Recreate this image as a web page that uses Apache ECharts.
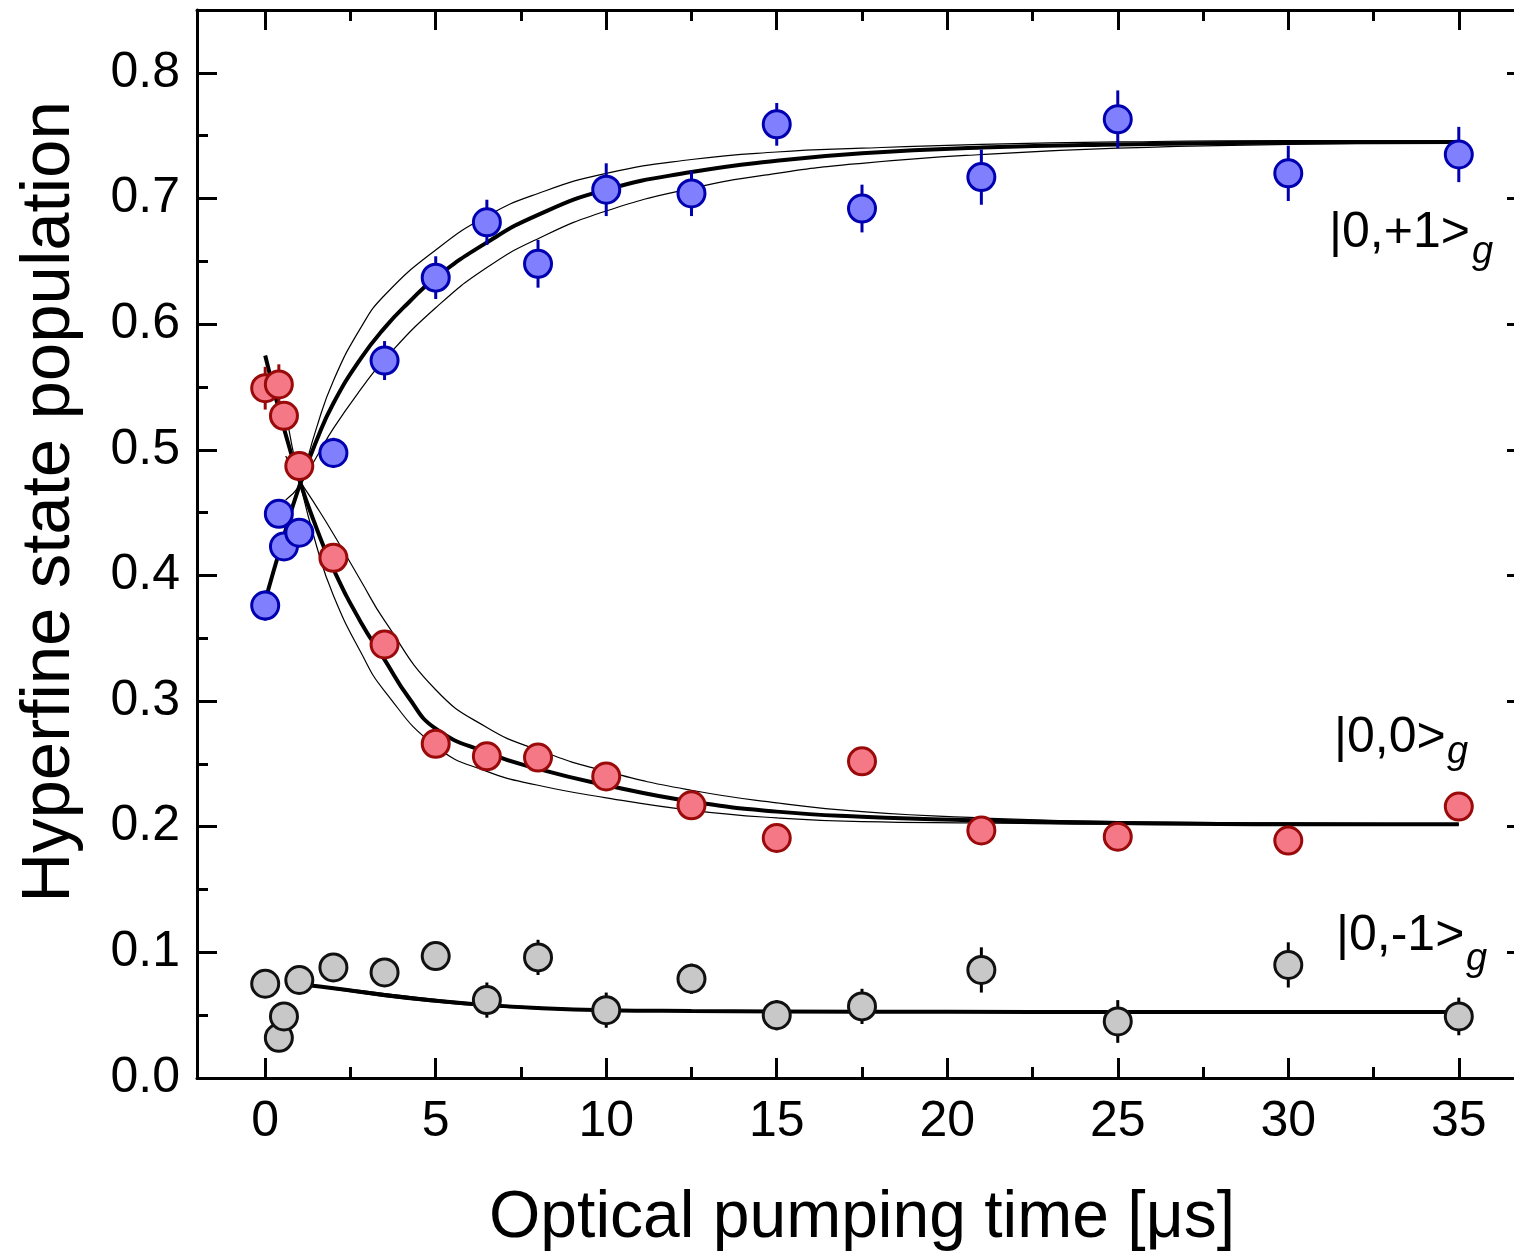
<!DOCTYPE html>
<html><head><meta charset="utf-8">
<script src="https://cdn.jsdelivr.net/npm/echarts@6/dist/echarts.min.js"></script>
<style>html,body{margin:0;padding:0;background:#fff}#c{width:1514px;height:1255px}</style>
</head><body><div id="c"></div>
<script>
// ---- measured data ----
const times = [0, 0.4, 0.55, 1, 2, 3.5, 5, 6.5, 8, 10, 12.5, 15, 17.5, 21, 25, 30, 35];
const popPlus1 = [0.376, 0.449, 0.423, 0.434, 0.4975, 0.571, 0.637, 0.681, 0.648, 0.707, 0.704, 0.759, 0.692, 0.717, 0.763, 0.720, 0.735];
const errPlus1 = [0.012, 0.011, 0.010, 0.010, 0.012, 0.0155, 0.017, 0.018, 0.019, 0.021, 0.018, 0.017, 0.019, 0.022, 0.023, 0.022, 0.022];
const popZero = [0.549, 0.552, 0.527, 0.487, 0.414, 0.345, 0.266, 0.256, 0.255, 0.240, 0.217, 0.191, 0.252, 0.197, 0.192, 0.189, 0.216];
const errZero = [0.017, 0.016, 0.010, 0.012, 0.010, 0.010, 0.009, 0.009, 0.009, 0.009, 0.009, 0.009, 0.009, 0.009, 0.009, 0.009, 0.009];
const popMinus1 = [0.075, 0.032, 0.049, 0.078, 0.088, 0.084, 0.097, 0.062, 0.096, 0.054, 0.079, 0.050, 0.057, 0.086, 0.045, 0.090, 0.049];
const errMinus1 = [0.008, 0.008, 0.009, 0.008, 0.009, 0.009, 0.010, 0.014, 0.014, 0.014, 0.012, 0.012, 0.014, 0.018, 0.017, 0.018, 0.015];

// ---- fit curves ----
const fitTimes = [0, 0.5, 1, 1.5, 2, 2.8, 3.5, 4.2, 5, 6.5, 8, 10, 12.5, 15, 17.5, 21, 25, 30, 35];
const fitPlus1 = [0.38, 0.427, 0.471, 0.507, 0.537, 0.5725, 0.597, 0.617, 0.637, 0.665, 0.687, 0.707, 0.721, 0.730, 0.736, 0.7405, 0.743, 0.7445, 0.745];
const fitZero = [0.575, 0.522, 0.476, 0.438, 0.405, 0.363, 0.333, 0.303, 0.278, 0.259, 0.246, 0.233, 0.220, 0.212, 0.208, 0.205, 0.203, 0.202, 0.202];
const bandTimes = [0.6, 1, 1.5, 2, 2.8, 3.5, 5, 6.5, 8, 10, 12.5, 15, 17.5, 21, 25, 30, 35];
const bandPlus1Hi = [0.445, 0.471, 0.517, 0.555, 0.597, 0.623, 0.659, 0.686, 0.704, 0.720, 0.731, 0.737, 0.740, 0.743, 0.745, 0.746, 0.746];
const bandPlus1Lo = [0.46, 0.471, 0.494, 0.517, 0.548, 0.572, 0.613, 0.645, 0.668, 0.690, 0.708, 0.720, 0.728, 0.735, 0.740, 0.743, 0.745];
const bandZeroHi = [0.495, 0.476, 0.455, 0.433, 0.396, 0.364, 0.309, 0.279, 0.261, 0.244, 0.229, 0.219, 0.212, 0.207, 0.204, 0.203, 0.202];
const bandZeroLo = [0.53, 0.476, 0.424, 0.384, 0.339, 0.308, 0.264, 0.244, 0.233, 0.223, 0.213, 0.207, 0.204, 0.203, 0.202, 0.202, 0.202];
const fitMinusTimes = [1.2, 2, 3.5, 5, 6.5, 8, 10, 12.5, 15, 20, 25, 30, 35];
const fitMinus1 = [0.074, 0.0715, 0.066, 0.0615, 0.058, 0.0557, 0.054, 0.0533, 0.053, 0.0527, 0.0525, 0.0525, 0.0525];
const bandMinus1Hi = [0.074, 0.0722, 0.0672, 0.0625, 0.0588, 0.0563, 0.0545, 0.0536, 0.0532, 0.0528, 0.0526, 0.0525, 0.0525];
const bandMinus1Lo = [0.074, 0.0708, 0.0648, 0.0605, 0.0572, 0.0551, 0.0535, 0.053, 0.0528, 0.0526, 0.0525, 0.0525, 0.0525];

// ---- axis ticks ----
const xMajorTicks = [0, 5, 10, 15, 20, 25, 30, 35];
const xMinorTicks = [2.5, 7.5, 12.5, 17.5, 22.5, 27.5, 32.5];
const yMajorTicks = [0, 0.1, 0.2, 0.3, 0.4, 0.5, 0.6, 0.7, 0.8];
const yMinorTicks = [0.05, 0.15, 0.25, 0.35, 0.45, 0.55, 0.65, 0.75];
const stateLabels = ['|0,+1>', '|0,0>', '|0,-1>'];

const FONT = '"Liberation Sans", Arial, sans-serif';
const pair = (xs, ys) => xs.map((x, i) => [x, ys[i]]);
const triple = (xs, ys, es) => xs.map((x, i) => [x, ys[i], es[i]]);

function xAx(grid, pos, ticks, len, line, label) {
  return {
    type: 'value', gridIndex: grid, position: pos, min: -2, max: 37,
    axisLine: { show: line, onZero: false, lineStyle: { color: '#000', width: 3 } },
    axisTick: { show: true, inside: true, length: len, customValues: ticks, lineStyle: { color: '#000', width: 3 } },
    axisLabel: label ? { show: true, customValues: ticks, margin: 19, fontSize: 50, fontFamily: FONT, color: '#000' } : { show: false },
    splitLine: { show: false }
  };
}
function yAx(grid, pos, ticks, len, line, label) {
  return {
    type: 'value', gridIndex: grid, position: pos, min: 0, max: 0.85,
    axisLine: { show: line, onZero: false, lineStyle: { color: '#000', width: 3 } },
    axisTick: { show: true, inside: true, length: len, customValues: ticks, lineStyle: { color: '#000', width: 3 } },
    axisLabel: label ? { show: true, customValues: ticks, margin: 17, fontSize: 50, fontFamily: FONT, color: '#000', formatter: v => v.toFixed(1) } : { show: false },
    splitLine: { show: false }
  };
}

function errBars(name, ys, es, color) {
  return {
    type: 'custom', name: name, xAxisIndex: 0, yAxisIndex: 0, z: 3,
    data: triple(times, ys, es),
    renderItem: function (params, api) {
      const x = api.value(0), y = api.value(1), e = api.value(2);
      const a = api.coord([x, y - e]), b = api.coord([x, y + e]);
      return { type: 'line', shape: { x1: a[0], y1: a[1], x2: b[0], y2: b[1] }, style: { stroke: color, lineWidth: 3 } };
    }
  };
}
function dots(name, ys, fill, border) {
  return {
    type: 'scatter', name: name, xAxisIndex: 0, yAxisIndex: 0, z: 4,
    data: pair(times, ys), symbol: 'circle', symbolSize: 27,
    itemStyle: { color: fill, borderColor: border, borderWidth: 3, opacity: 1 }
  };
}
function curve(xs, ys, w) {
  return {
    type: 'line', xAxisIndex: 0, yAxisIndex: 0, z: 2, data: pair(xs, ys),
    showSymbol: false, smooth: 0.5, silent: true,
    lineStyle: { color: '#000', width: w }
  };
}

const chart = echarts.init(document.getElementById('c'), null, { renderer: 'canvas' });
const gridBox = { left: 197, top: 10, width: 1330, height: 1068, outerBoundsMode: 'none', containLabel: false };
chart.setOption({
  animation: false,
  backgroundColor: '#fff',
  grid: [Object.assign({}, gridBox), Object.assign({}, gridBox)],
  xAxis: [
    Object.assign(xAx(0, 'bottom', xMajorTicks, 20, true, true), {
      name: 'Optical pumping time [\u03bcs]', nameLocation: 'middle', nameGap: 108,
      nameTextStyle: { fontSize: 66, fontFamily: FONT, color: '#000' }
    }),
    xAx(0, 'top', xMajorTicks, 20, true, false),
    xAx(1, 'bottom', xMinorTicks, 11, false, false),
    xAx(1, 'top', xMinorTicks, 11, false, false)
  ],
  yAxis: [
    yAx(0, 'left', yMajorTicks, 20, true, true),
    yAx(0, 'right', yMajorTicks, 20, true, false),
    yAx(1, 'left', yMinorTicks, 11, false, false),
    yAx(1, 'right', yMinorTicks, 11, false, false)
  ],
  graphic: [
    { type: 'text', x: 50, y: 502, rotation: Math.PI / 2,
      style: { text: 'Hyperfine state population', font: '69px ' + FONT, fill: '#000', align: 'center', verticalAlign: 'middle', textAlign: 'center', textVerticalAlign: 'middle' } },
    { type: 'text', x: 1329, y: 233, style: { text: stateLabels[0], font: '50px ' + FONT, fill: '#000', verticalAlign: 'middle', textVerticalAlign: 'middle' } },
    { type: 'text', x: 1472, y: 252, style: { text: 'g', font: 'italic 38px ' + FONT, fill: '#000', verticalAlign: 'middle', textVerticalAlign: 'middle' } },
    { type: 'text', x: 1334, y: 738, style: { text: stateLabels[1], font: '50px ' + FONT, fill: '#000', verticalAlign: 'middle', textVerticalAlign: 'middle' } },
    { type: 'text', x: 1447, y: 752, style: { text: 'g', font: 'italic 38px ' + FONT, fill: '#000', verticalAlign: 'middle', textVerticalAlign: 'middle' } },
    { type: 'text', x: 1336, y: 936, style: { text: stateLabels[2], font: '50px ' + FONT, fill: '#000', verticalAlign: 'middle', textVerticalAlign: 'middle' } },
    { type: 'text', x: 1466, y: 959, style: { text: 'g', font: 'italic 38px ' + FONT, fill: '#000', verticalAlign: 'middle', textVerticalAlign: 'middle' } }
  ],
  series: [
    curve(bandTimes, bandPlus1Hi, 1.2),
    curve(bandTimes, bandPlus1Lo, 1.2),
    curve(bandTimes, bandZeroHi, 1.2),
    curve(bandTimes, bandZeroLo, 1.2),
    curve(fitMinusTimes, bandMinus1Hi, 1.2),
    curve(fitMinusTimes, bandMinus1Lo, 1.2),
    curve(fitTimes, fitPlus1, 4),
    curve(fitTimes, fitZero, 4),
    curve(fitMinusTimes, fitMinus1, 4),
    errBars('err+1', popPlus1, errPlus1, '#0000b0'),
    errBars('err0', popZero, errZero, '#9a0a0a'),
    errBars('err-1', popMinus1, errMinus1, '#000'),
    dots(stateLabels[0], popPlus1, '#8080ff', '#0000b0'),
    dots(stateLabels[1], popZero, '#f47886', '#9a0a0a'),
    dots(stateLabels[2], popMinus1, '#c8c8c8', '#111')
  ]
});
</script>
</body></html>
